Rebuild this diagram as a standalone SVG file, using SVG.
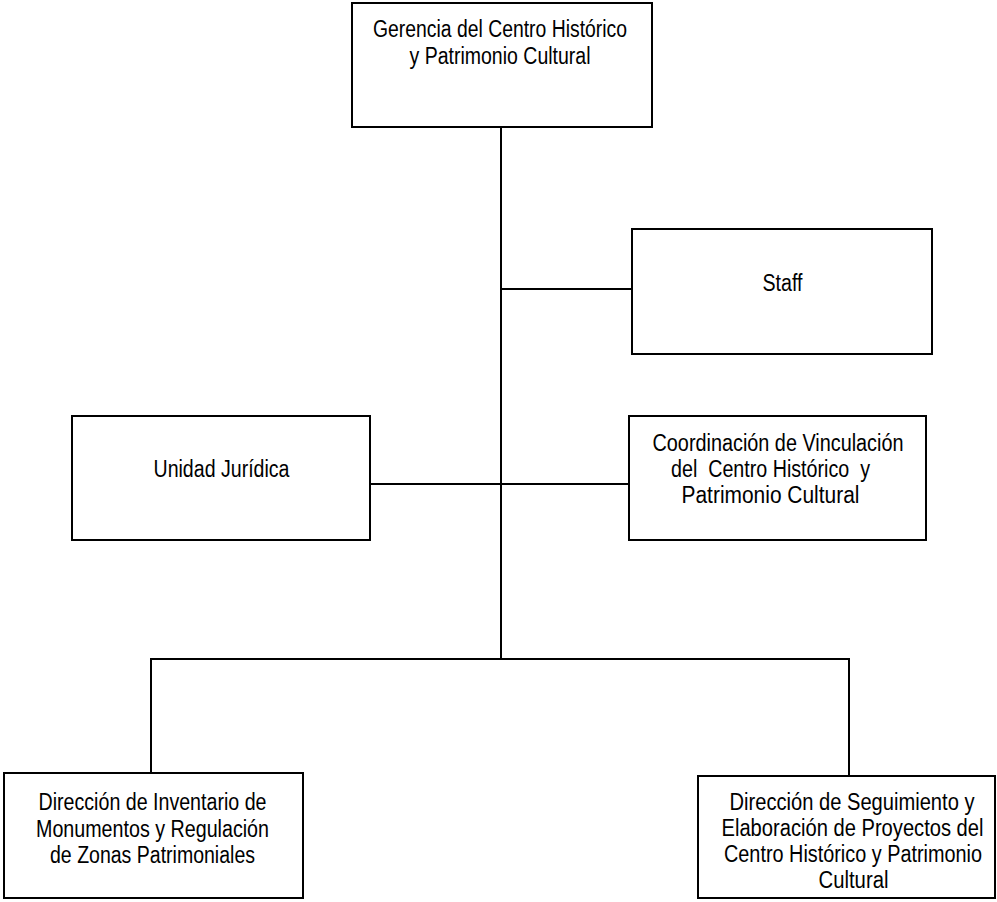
<svg xmlns="http://www.w3.org/2000/svg" width="997" height="902" viewBox="0 0 997 902">
<style>
.box{fill:#fff;stroke:#000;stroke-width:2}
.ln{fill:none;stroke:#000;stroke-width:2}
text{font-family:"Liberation Sans Narrow","Liberation Sans",Arial,sans-serif;font-size:23px;fill:#000;text-anchor:middle}
</style>
<rect width="997" height="902" fill="#fff"/>
<g id="connectors">
<path class="ln" d="M501,127 V659"/>
<path class="ln" d="M501,289 H632"/>
<path class="ln" d="M370,484 H629"/>
<path class="ln" d="M151,773 V659 H849 V776"/>
</g>
<g id="gerencia">
<rect class="box" x="352" y="3" width="300" height="124"/>
<text x="500" y="37" textLength="254" lengthAdjust="spacingAndGlyphs">Gerencia del Centro Histórico</text>
<text x="500" y="64" textLength="181" lengthAdjust="spacingAndGlyphs">y Patrimonio Cultural</text>
</g>
<g id="staff">
<rect class="box" x="632" y="229" width="300" height="125"/>
<text x="782.5" y="291" textLength="40" lengthAdjust="spacingAndGlyphs">Staff</text>
</g>
<g id="unidad">
<rect class="box" x="72" y="416" width="298" height="124"/>
<text x="221.5" y="477" textLength="136" lengthAdjust="spacingAndGlyphs">Unidad Jurídica</text>
</g>
<g id="coordinacion">
<rect class="box" x="629" y="416" width="297" height="124"/>
<text x="778" y="451" textLength="251" lengthAdjust="spacingAndGlyphs">Coordinación de Vinculación</text>
<text x="770.5" y="477" textLength="199" lengthAdjust="spacingAndGlyphs" xml:space="preserve">del  Centro Histórico  y</text>
<text x="770.5" y="503" textLength="178" lengthAdjust="spacingAndGlyphs">Patrimonio Cultural</text>
</g>
<g id="inventario">
<rect class="box" x="4" y="773" width="299" height="125"/>
<text x="152.5" y="810" textLength="228" lengthAdjust="spacingAndGlyphs">Dirección de Inventario de</text>
<text x="152.5" y="837" textLength="233" lengthAdjust="spacingAndGlyphs">Monumentos y Regulación</text>
<text x="152.5" y="863" textLength="205" lengthAdjust="spacingAndGlyphs">de Zonas Patrimoniales</text>
</g>
<g id="seguimiento">
<rect class="box" x="698" y="776" width="297" height="122"/>
<text x="852" y="810" textLength="245" lengthAdjust="spacingAndGlyphs">Dirección de Seguimiento y</text>
<text x="852.5" y="836" textLength="262" lengthAdjust="spacingAndGlyphs">Elaboración de Proyectos del</text>
<text x="853" y="862" textLength="258" lengthAdjust="spacingAndGlyphs">Centro Histórico y Patrimonio</text>
<text x="853.5" y="888" textLength="70" lengthAdjust="spacingAndGlyphs">Cultural</text>
</g>
</svg>
